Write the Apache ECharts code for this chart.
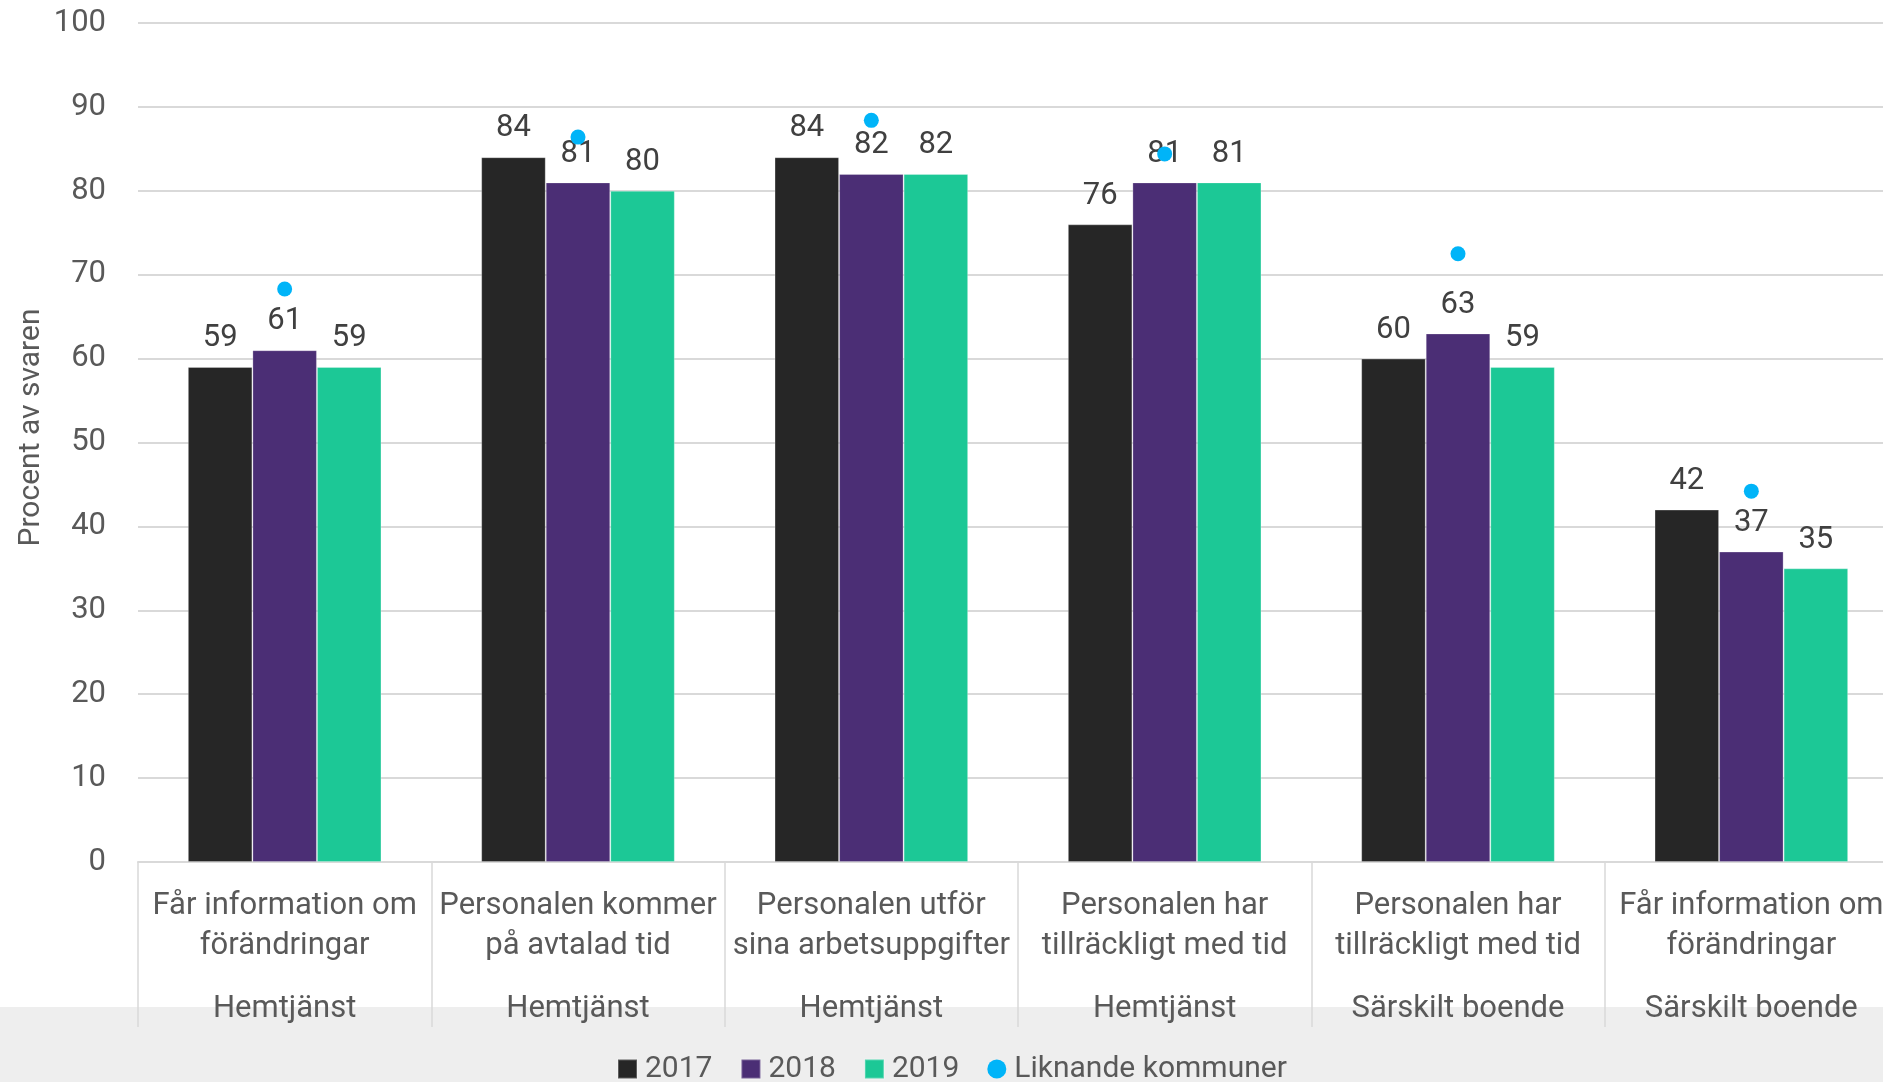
<!DOCTYPE html>
<html>
<head>
<meta charset="utf-8">
<script src="https://cdn.jsdelivr.net/npm/echarts@6/dist/echarts.min.js"></script>
<style>
html,body{margin:0;padding:0;background:#fff;}
#chart{width:1883px;height:1082px;}
</style>
</head>
<body>
<div id="chart"></div>
<script>
var questions = [
  "Får information om\nförändringar",
  "Personalen kommer\npå avtalad tid",
  "Personalen utför\nsina arbetsuppgifter",
  "Personalen har\ntillräckligt med tid",
  "Personalen har\ntillräckligt med tid",
  "Får information om\nförändringar"
];
var groups = ["Hemtjänst", "Hemtjänst", "Hemtjänst", "Hemtjänst", "Särskilt boende", "Särskilt boende"];
var values2017 = [59, 84, 84, 76, 60, 42];
var values2018 = [61, 81, 82, 81, 63, 37];
var values2019 = [59, 80, 82, 81, 59, 35];
var liknande = [68.3, 86.4, 88.4, 84.4, 72.5, 44.2];
var yTicks = [0, 10, 20, 30, 40, 50, 60, 70, 80, 90, 100];

var categories = questions.map(function (q, i) { return q + "||" + groups[i]; });

var FONT = "Roboto";
var FS = 31;
var TXT = "#595959";

var chart = echarts.init(document.getElementById("chart"));

function barSeries(name, data, color) {
  return {
    name: name,
    type: "bar",
    data: data,
    barGap: "0%",
    barCategoryGap: "34%",
    itemStyle: { color: color, borderColor: "rgba(255,255,255,0.25)", borderWidth: 1 },
    label: {
      show: true,
      position: "top",
      distance: 13,
      color: "#404040",
      fontFamily: FONT,
      fontSize: FS
    },
    z: 2
  };
}

chart.setOption({
  animation: false,
  backgroundColor: "#ffffff",
  textStyle: { fontFamily: FONT },
  graphic: [{
    type: "rect",
    shape: { x: 0, y: 1007, width: 1883, height: 75 },
    style: { fill: "#eeeeee" },
    z: -10,
    silent: true
  }],
  grid: { left: 138, right: -15, top: 23, bottom: 220, containLabel: false, outerBoundsMode: "none" },
  legend: {
    bottom: -7,
    left: 612,
    itemWidth: 19,
    itemHeight: 19,
    itemGap: 28,
    textStyle: { fontFamily: FONT, fontSize: 30, color: TXT, padding: [0, 0, 0, 3] },
    data: [
      { name: "2017", icon: "rect" },
      { name: "2018", icon: "rect" },
      { name: "2019", icon: "rect" },
      { name: "Liknande kommuner", icon: "circle" }
    ]
  },
  xAxis: {
    type: "category",
    data: categories,
    axisLine: { lineStyle: { color: "#d9d9d9", width: 2 } },
    axisTick: { show: true, length: 165, lineStyle: { color: "#d9d9d9", width: 1.5 } },
    axisLabel: {
      interval: 0,
      margin: 24,
      formatter: function (v) {
        var parts = v.split("||");
        var lines = parts[0].split("\n").map(function (l) { return "{q|" + l + "}"; });
        return lines.join("\n") + "\n{g|" + parts[1] + "}";
      },
      rich: {
        q: { fontFamily: FONT, fontSize: FS, color: TXT, lineHeight: 40, align: "center" },
        g: { fontFamily: FONT, fontSize: FS, color: TXT, lineHeight: 86, align: "center" }
      }
    }
  },
  yAxis: {
    type: "value",
    min: yTicks[0],
    max: yTicks[yTicks.length - 1],
    interval: yTicks[1] - yTicks[0],
    name: "Procent av svaren",
    nameLocation: "middle",
    nameGap: 92,
    nameMoveOverlap: false,
    nameTextStyle: { fontFamily: FONT, fontSize: 30, color: TXT, padding: [0, 0, 0, 30] },
    axisLine: { show: false },
    axisTick: { show: false },
    axisLabel: { margin: 32, fontFamily: FONT, fontSize: FS, color: TXT },
    splitLine: { lineStyle: { color: "#d9d9d9", width: 2 } }
  },
  series: [
    barSeries("2017", values2017, "#262626"),
    barSeries("2018", values2018, "#4b2e75"),
    barSeries("2019", values2019, "#1cc896"),
    {
      name: "Liknande kommuner",
      type: "scatter",
      data: liknande,
      symbol: "circle",
      symbolSize: 15,
      itemStyle: { color: "#00b4f8", opacity: 1 },
      z: 10
    }
  ]
});
</script>
</body>
</html>
